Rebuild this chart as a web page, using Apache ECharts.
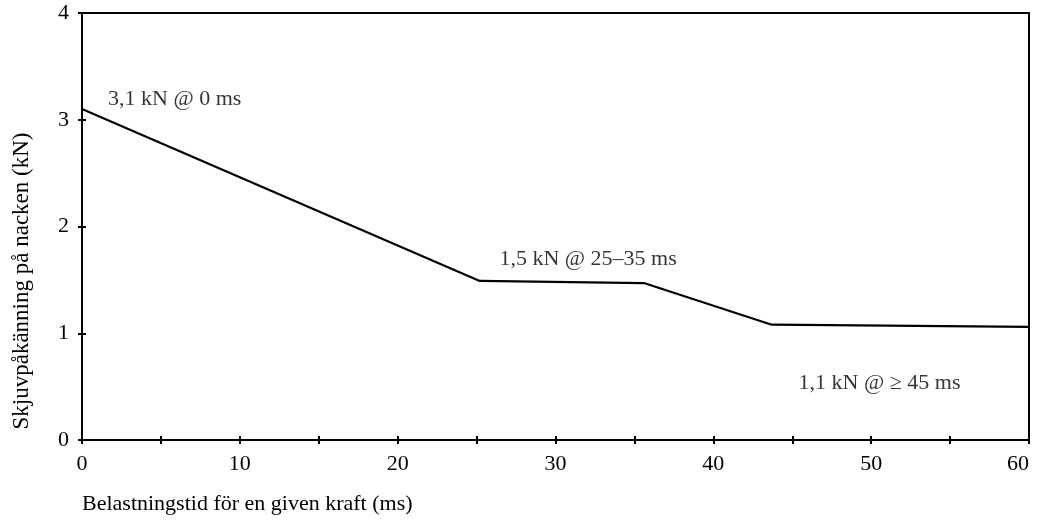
<!DOCTYPE html>
<html>
<head>
<meta charset="utf-8">
<script src="https://cdn.jsdelivr.net/npm/echarts@6/dist/echarts.min.js"></script>
<style>html,body{margin:0;padding:0;background:#fff}#c{width:1037px;height:520px}</style>
</head>
<body>
<div id="c"></div>
<script>
// Data
var timeMs = [0, 25.2, 35.6, 43.7, 60];
var forceKN = [3.1, 1.49, 1.47, 1.08, 1.06];
var xTicks = [0, 10, 20, 30, 40, 50, 60];
var yTicks = [0, 1, 2, 3, 4];
var annoText = ['3,1 kN @ 0 ms', '1,5 kN @ 25–35 ms', '1,1 kN @ ≥ 45 ms'];
var annoX = [1.65, 26.45, 45.4];
var annoY = [3.19, 1.69, 0.53];
var xTitle = 'Belastningstid för en given kraft (ms)';
var yTitle = 'Skjuvpåkänning på nacken (kN)';

var FONT = '"Liberation Serif", "DejaVu Serif", serif';
var chart = echarts.init(document.getElementById('c'), null, {renderer: 'canvas'});

function xAxisCfg(inside, show) {
  return {
    type: 'value', min: 0, max: 60, interval: 5, position: 'bottom',
    axisLine: {show: show, onZero: false, lineStyle: {color: '#000', width: 2}},
    axisTick: {show: true, inside: inside, length: 4, lineStyle: {color: '#000', width: 2}},
    axisLabel: {show: show, margin: 13, color: '#000', fontFamily: FONT, fontSize: 22,
      alignMaxLabel: 'right',
      formatter: function (v) { return xTicks.indexOf(v) >= 0 ? String(v) : ''; }},
    splitLine: {show: false}
  };
}
function yAxisCfg(inside, show) {
  return {
    type: 'value', min: 0, max: 4, interval: 1, position: 'left',
    axisLine: {show: show, onZero: false, lineStyle: {color: '#000', width: 2}},
    axisTick: {show: true, inside: inside, length: 4, lineStyle: {color: '#000', width: 2}},
    axisLabel: {show: show, margin: 13, color: '#000', fontFamily: FONT, fontSize: 22,
      formatter: function (v) { return yTicks.indexOf(v) >= 0 ? String(v) : ''; }},
    splitLine: {show: false}
  };
}

chart.setOption({
  animation: false,
  backgroundColor: '#fff',
  grid: {left: 82, right: 8, top: 13, bottom: 80, show: true, borderColor: '#000', borderWidth: 2, containLabel: false},
  xAxis: [xAxisCfg(false, true), xAxisCfg(true, false)],
  yAxis: [yAxisCfg(false, true), yAxisCfg(true, false)],
  series: [
    {
      type: 'line', xAxisIndex: 0, yAxisIndex: 0,
      data: timeMs.map(function (t, i) { return [t, forceKN[i]]; }),
      symbol: 'none', lineStyle: {color: '#000', width: 2.2}
    },
    {
      type: 'scatter', xAxisIndex: 0, yAxisIndex: 0, symbolSize: 0,
      data: annoText.map(function (s, i) { return {value: [annoX[i], annoY[i]], name: s}; }),
      label: {show: true, position: 'right', distance: 0, color: '#000', fontFamily: FONT, fontSize: 22,
        formatter: function (p) { return p.name; }},
      silent: true
    }
  ],
  graphic: [
    {type: 'text', left: 82, top: 493, style: {text: xTitle, fill: '#000', font: '22px ' + FONT}},
    {type: 'text', x: 22, y: 281, rotation: Math.PI / 2,
      style: {text: yTitle, fill: '#000', font: '23px ' + FONT, textAlign: 'center', textVerticalAlign: 'middle'}}
  ]
});
</script>
</body>
</html>
